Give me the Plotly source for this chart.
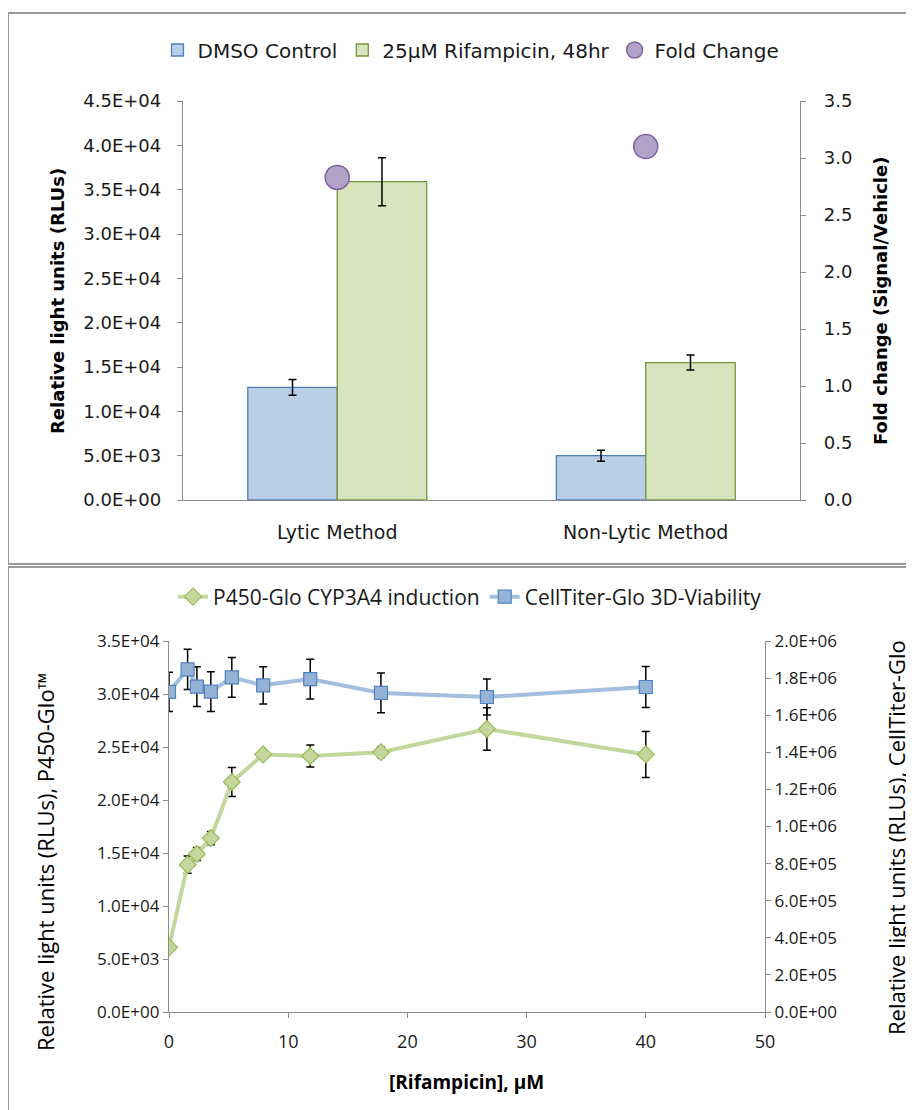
import plotly.graph_objects as go

# ---------------- data: top chart ----------------
methods = ["Lytic Method", "Non-Lytic Method"]
dmso_vals = [12700, 5000]
dmso_err = [900, 620]
rif_vals = [35900, 15500]
rif_err = [2700, 850]
fold_change = [2.83, 3.10]

top_left_ticks = [0, 5000, 10000, 15000, 20000, 25000, 30000, 35000, 40000, 45000]
top_left_labels = ["0.0E+00", "5.0E+03", "1.0E+04", "1.5E+04", "2.0E+04",
                   "2.5E+04", "3.0E+04", "3.5E+04", "4.0E+04", "4.5E+04"]

# ---------------- data: bottom chart ----------------
rif_conc = [0, 1.56, 2.34, 3.51, 5.27, 7.90, 11.85, 17.78, 26.67, 40]
p450_vals = [6100, 13900, 14900, 16400, 21700, 24300, 24150, 24500, 26700, 24300]
p450_err = [150, 820, 610, 630, 1370, 200, 1040, 490, 2000, 2170]
ctg_vals = [1726000, 1847000, 1754000, 1727000, 1804000, 1761000, 1795000, 1720000, 1698000, 1752000]
ctg_err = [106000, 108000, 107000, 107000, 107000, 100000, 107000, 107000, 97000, 110000]

bot_left_ticks = [0, 5000, 10000, 15000, 20000, 25000, 30000, 35000]
bot_left_labels = ["0.0E+00", "5.0E+03", "1.0E+04", "1.5E+04",
                   "2.0E+04", "2.5E+04", "3.0E+04", "3.5E+04"]
bot_right_ticks = [0, 200000, 400000, 600000, 800000, 1000000, 1200000,
                   1400000, 1600000, 1800000, 2000000]
bot_right_labels = ["0.0E+00", "2.0E+05", "4.0E+05", "6.0E+05", "8.0E+05", "1.0E+06",
                    "1.2E+06", "1.4E+06", "1.6E+06", "1.8E+06", "2.0E+06"]

W, H = 914, 1110
OFF = 8  # page body margin


def px(x):
    return (x - OFF) / W


def py(y):
    return 1 - (y - OFF) / H


TOP_FONT = "DejaVu Sans"
BOT_FONT = "Open Sans"
AXIS_COL = "#8c8c8c"
TXT = "#1a1a1a"

fig = go.Figure()

# ---- top chart traces ----
fig.add_trace(go.Bar(
    x=methods, y=dmso_vals, name="DMSO Control",
    marker=dict(color="#b9cde5", line=dict(color="#4f81bd", width=1.3)),
    error_y=dict(type="data", array=dmso_err, color="black", thickness=1.5, width=4),
    xaxis="x", yaxis="y", legend="legend", offsetgroup="a",
))
fig.add_trace(go.Bar(
    x=methods, y=rif_vals, name="25µM Rifampicin, 48hr",
    marker=dict(color="#d7e4bd", line=dict(color="#77933c", width=1.3)),
    error_y=dict(type="data", array=rif_err, color="black", thickness=1.5, width=4),
    xaxis="x", yaxis="y", legend="legend", offsetgroup="b",
))
fig.add_trace(go.Scatter(
    x=methods, y=fold_change, name="Fold Change", mode="markers",
    marker=dict(symbol="circle", size=24, color="#b3a2c7",
                line=dict(color="#8064a2", width=1.5)),
    xaxis="x", yaxis="y2", legend="legend",
))

# ---- bottom chart traces ----
fig.add_trace(go.Scatter(
    x=rif_conc, y=p450_vals, name="P450-Glo CYP3A4 induction", mode="lines+markers",
    line=dict(color="#c3d69b", width=4),
    marker=dict(symbol="diamond", size=13, color="#c3d69b",
                line=dict(color="#9bbb59", width=1.2)),
    error_y=dict(type="data", array=p450_err, color="black", thickness=1.5, width=4),
    xaxis="x2", yaxis="y3", legend="legend2",
))
fig.add_trace(go.Scatter(
    x=rif_conc, y=ctg_vals, name="CellTiter-Glo 3D-Viability", mode="lines+markers",
    line=dict(color="#a3bfe0", width=4),
    marker=dict(symbol="square", size=13, color="#95b3d7",
                line=dict(color="#4f81bd", width=1.2)),
    error_y=dict(type="data", array=ctg_err, color="black", thickness=1.5, width=4),
    xaxis="x2", yaxis="y4", legend="legend2",
))

axis_common = dict(showline=True, linecolor=AXIS_COL, linewidth=1.3, showgrid=False,
                   zeroline=False, ticks="outside", tickcolor=AXIS_COL, ticklen=5,
                   automargin=False)

fig.update_layout(
    width=W, height=H,
    margin=dict(l=0, r=0, t=0, b=0, autoexpand=False),
    paper_bgcolor="white", plot_bgcolor="white",
    barmode="group", bargap=0.42, bargroupgap=0,
    xaxis=dict(domain=[px(183), px(800)], anchor="y", type="category",
               showline=True, linecolor=AXIS_COL, linewidth=1.3, showgrid=False,
               ticks="", ticklabelstandoff=15, automargin=False,
               tickfont=dict(family=TOP_FONT, size=19, color=TXT)),
    yaxis=dict(domain=[py(500), py(101)], anchor="x", range=[0, 45000],
               tickvals=top_left_ticks, ticktext=top_left_labels, ticklabelstandoff=12,
               tickfont=dict(family=TOP_FONT, size=18, color=TXT), **axis_common),
    yaxis2=dict(domain=[py(500), py(101)], anchor="x", overlaying="y", side="right",
                range=[0, 3.5], dtick=0.5, tickformat=".1f", ticklabelstandoff=14,
                tickfont=dict(family=TOP_FONT, size=18, color=TXT), **axis_common),
    xaxis2=dict(domain=[px(169), px(765)], anchor="y3", range=[0, 50], dtick=10,
                ticklabelstandoff=8,
                tickfont=dict(family=BOT_FONT, size=18, color=TXT), **axis_common),
    yaxis3=dict(domain=[py(1012), py(641)], anchor="x2", range=[0, 35000],
                tickvals=bot_left_ticks, ticktext=bot_left_labels,
                tickfont=dict(family=BOT_FONT, size=17, color=TXT), **axis_common),
    yaxis4=dict(domain=[py(1012), py(641)], anchor="x2", overlaying="y3", side="right",
                range=[0, 2000000], tickvals=bot_right_ticks, ticktext=bot_right_labels,
                tickfont=dict(family=BOT_FONT, size=17, color=TXT), **axis_common),
    legend=dict(orientation="h", x=px(471), xanchor="center", y=py(50), yanchor="middle",
                font=dict(family=TOP_FONT, size=20, color=TXT), bgcolor="rgba(0,0,0,0)",
                traceorder="normal", itemwidth=30),
    legend2=dict(orientation="h", x=px(470), xanchor="center", y=py(597), yanchor="middle",
                 font=dict(family=BOT_FONT, size=21, color=TXT), bgcolor="rgba(0,0,0,0)",
                 traceorder="normal", itemwidth=30),
    showlegend=True,
)

# panel borders
fig.add_shape(type="rect", xref="paper", yref="paper",
              x0=px(8), x1=px(930), y0=py(564), y1=py(13),
              line=dict(color="#9a9a9a", width=2), fillcolor="rgba(0,0,0,0)", layer="below")
fig.add_shape(type="rect", xref="paper", yref="paper",
              x0=px(8), x1=px(930), y0=py(1130), y1=py(567),
              line=dict(color="#9a9a9a", width=2), fillcolor="rgba(0,0,0,0)", layer="below")

# axis titles
ann_common = dict(xref="paper", yref="paper", showarrow=False,
                  xanchor="center", yanchor="middle")
fig.add_annotation(text="<b>Relative light units (RLUs)</b>",
                   x=px(58), y=py(301), textangle=-90,
                   font=dict(family=TOP_FONT, size=18, color="black"), **ann_common)
fig.add_annotation(text="<b>Fold change (Signal/Vehicle)</b>",
                   x=px(881), y=py(301), textangle=-90,
                   font=dict(family=TOP_FONT, size=18, color="black"), **ann_common)
fig.add_annotation(text="Relative light units (RLUs), P450-Glo™",
                   x=px(45), y=py(862), textangle=-90,
                   font=dict(family=BOT_FONT, size=22, color="black"), **ann_common)
fig.add_annotation(text="Relative light units (RLUs), CellTiter-Glo",
                   x=px(896), y=py(838), textangle=-90,
                   font=dict(family=BOT_FONT, size=22, color="black"), **ann_common)
fig.add_annotation(text="<b>[Rifampicin], µM</b>",
                   x=px(467), y=py(1082),
                   font=dict(family=BOT_FONT, size=19, color="black"), **ann_common)

fig.write_html("out.html")
